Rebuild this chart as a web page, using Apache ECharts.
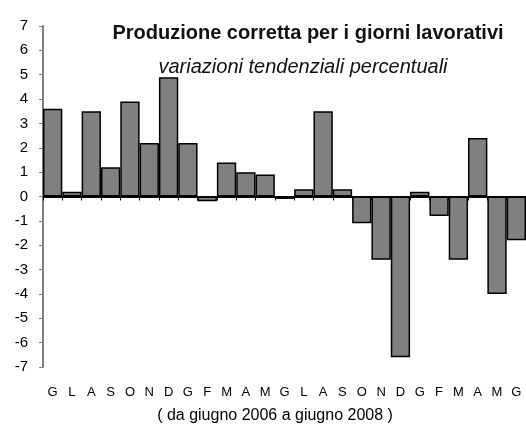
<!DOCTYPE html>
<html>
<head>
<meta charset="utf-8">
<style>
  html, body { margin: 0; padding: 0; background: #fff; }
  #chart { width: 526px; height: 430px; }
</style>
<script src="https://cdn.jsdelivr.net/npm/echarts@6/dist/echarts.min.js"></script>
</head>
<body>
<div id="chart"></div>
<script>
// mesi da giugno 2006 a giugno 2008
const months = ['G', 'L', 'A', 'S', 'O', 'N', 'D', 'G', 'F', 'M', 'A', 'M',
  'G', 'L', 'A', 'S', 'O', 'N', 'D', 'G', 'F', 'M', 'A', 'M', 'G'];
// variazioni tendenziali percentuali
const values = [3.6, 0.2, 3.5, 1.2, 3.9, 2.2, 4.9, 2.2, -0.2, 1.4, 1.0, 0.9,
  -0.1, 0.3, 3.5, 0.3, -1.1, -2.6, -6.6, 0.2, -0.8, -2.6, 2.4, -4.0, -1.8];
const yMin = -7, yMax = 7, yStep = 1;

(function() {
  let myChart = echarts.init(document.getElementById('chart'))
  let font = 'Liberation Sans, Arial, sans-serif'
  let option = {
    animation: false,
    title: [
      {
        text: 'Produzione corretta per i giorni lavorativi',
        left: 303, top: 18, textAlign: 'center',
        textStyle: { fontFamily: font, fontSize: 20, fontWeight: 'bold', color: '#111' }
      },
      {
        text: 'variazioni tendenziali percentuali',
        left: 298, top: 52, textAlign: 'center',
        textStyle: { fontFamily: font, fontSize: 20, fontWeight: 'normal', fontStyle: 'italic', color: '#111' }
      },
      {
        text: '( da giugno 2006 a giugno 2008 )',
        left: 270, top: 403, textAlign: 'center',
        textStyle: { fontFamily: font, fontSize: 16, fontWeight: 'normal', color: '#000' }
      }
    ],
    grid: {
      left: 43,
      top: 26,
      right: 0,
      bottom: 63,
      containLabel: false
    },
    xAxis: [
      {
        type: 'category',
        data: months,
        axisLine: { onZero: true, lineStyle: { color: '#000', width: 2 } },
        axisTick: { show: true, length: 4, lineStyle: { color: '#000' } },
        axisLabel: { show: false }
      },
      {
        type: 'category',
        data: months,
        position: 'bottom',
        axisLine: { show: false, onZero: false },
        axisTick: { show: false },
        axisLabel: { color: '#000', fontFamily: font, fontSize: 13, margin: 19, interval: 0 }
      }
    ],
    yAxis: {
      type: 'value',
      min: yMin,
      max: yMax,
      interval: yStep,
      axisLine: { show: true, onZero: false, lineStyle: { color: '#808080', width: 2 } },
      axisTick: { show: true, length: 4, lineStyle: { color: '#808080' } },
      axisLabel: { color: '#000', fontFamily: font, fontSize: 15, margin: 15 },
      splitLine: { show: false }
    },
    series: [
      {
        type: 'bar',
        data: values,
        barCategoryGap: '0%',
        itemStyle: { color: '#808080', borderColor: '#000', borderWidth: 1.5 }
      }
    ]
  }
  myChart.setOption(option)
})();
</script>
</body>
</html>
